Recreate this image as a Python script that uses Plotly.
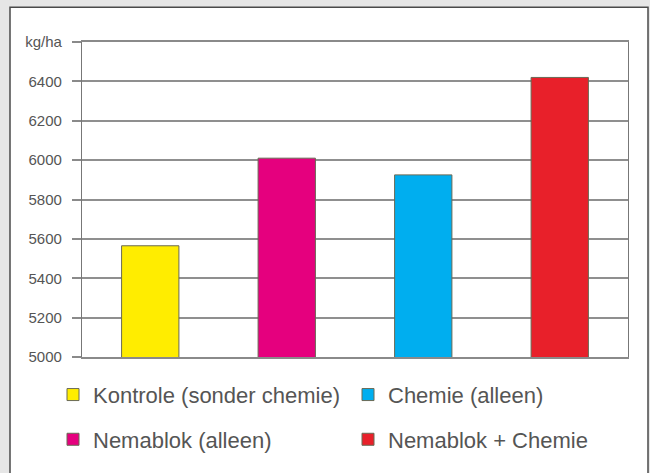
import plotly.graph_objects as go

categories = ["Kontrole (sonder chemie)", "Nemablok (alleen)", "Chemie (alleen)", "Nemablok + Chemie"]
values = [5565, 6010, 5925, 6420]
colors = ["#FFED00", "#E5007E", "#00AEEF", "#E8202A"]
legend_rows = ["legend", "legend2", "legend", "legend2"]
legend_order = [0, 2, 1, 3]  # draw order so legend rows read: row1 yellow/blue, row2 magenta/red
tick_vals = [5000, 5200, 5400, 5600, 5800, 6000, 6200, 6400, 6600]
tick_text = ["5000", "5200", "5400", "5600", "5800", "6000", "6200", "6400", "kg/ha"]

W, H = 650, 473
L, R, T, B = 82, 22, 42, 114
pw, ph = W - L - R, H - T - B

def px(x):
    return (x - L) / pw

def py(y):
    return (H - B - y) / ph

fig = go.Figure()
for i in legend_order:
    fig.add_trace(go.Bar(
        x=[categories[i]], y=[values[i]], name=categories[i],
        marker=dict(color=colors[i], line=dict(color="#6a6a55", width=1)),
        width=0.42, legend=legend_rows[i],
    ))

font = "Liberation Sans, Arial, Helvetica, sans-serif"
fig.update_layout(
    width=W, height=H,
    margin=dict(l=L, r=R, t=T, b=B),
    paper_bgcolor="#e6e6e6",
    plot_bgcolor="white",
    barmode="overlay",
    font=dict(family=font, color="#555555"),
    xaxis=dict(categoryorder="array", categoryarray=categories, showticklabels=False,
               showgrid=False, showline=True, linecolor="#8a8a8a", linewidth=1.5, mirror=True,
               ticks=""),
    yaxis=dict(range=[5000, 6600], tickvals=tick_vals, ticktext=tick_text,
               showgrid=True, gridcolor="#8f8f8f", gridwidth=1.8,
               showline=True, linecolor="#777777", linewidth=1.2, mirror=True,
               ticks="outside", ticklen=9, tickcolor="#8a8a8a", tickwidth=1.5,
               ticklabelstandoff=7,
               tickfont=dict(size=15, color="#555555"), zeroline=False),
    legend=dict(orientation="h", x=px(53), xanchor="left", y=py(397), yanchor="middle",
                entrywidth=250, entrywidthmode="pixels", bgcolor="rgba(0,0,0,0)",
                font=dict(size=22, color="#555555", family=font), traceorder="normal"),
    legend2=dict(orientation="h", x=px(53), xanchor="left", y=py(442), yanchor="middle",
                 entrywidth=250, entrywidthmode="pixels", bgcolor="rgba(0,0,0,0)",
                 font=dict(size=22, color="#555555", family=font), traceorder="normal"),
    shapes=[dict(type="rect", xref="paper", yref="paper", layer="below",
                 x0=px(10), x1=px(648), y0=py(490), y1=py(7),
                 fillcolor="white", line=dict(color="#4a4a4a", width=1.5))],
)

fig.write_html("out.html")
